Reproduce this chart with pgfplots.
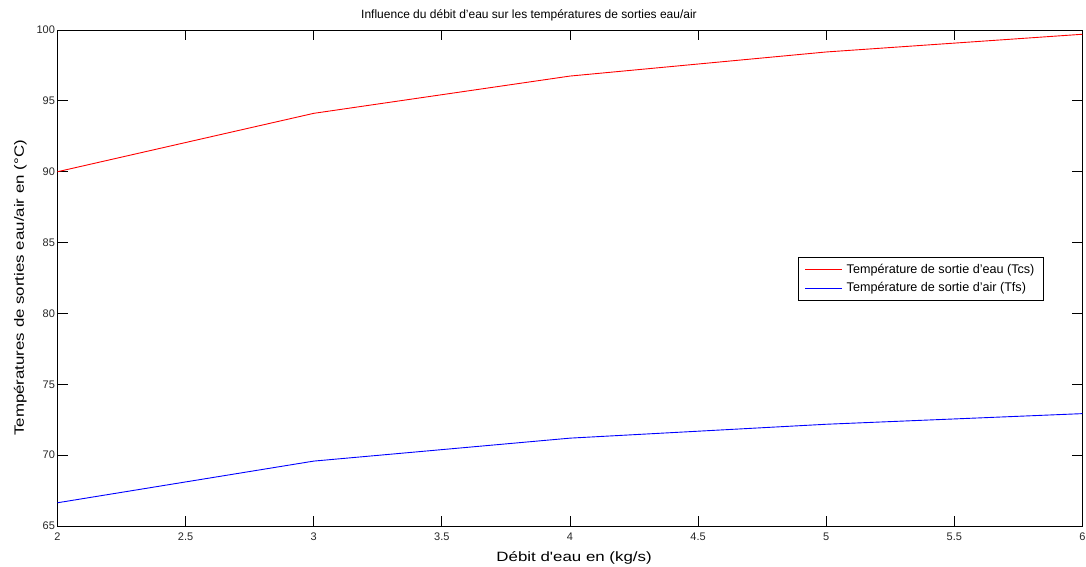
\documentclass[border=0pt]{standalone}
\usepackage{pgfplots}
\pgfplotsset{compat=1.18}
\usepackage{fontspec}
\setmainfont{Liberation Sans}
\newfontfamily\stretchfont[FakeStretch=1.25]{Liberation Sans}
\definecolor{mred}{RGB}{255,0,0}
\definecolor{mblue}{RGB}{0,0,255}
\begin{document}
\begin{tikzpicture}
\path[use as bounding box] (-57.5pt,-40pt) rectangle (1028.5pt,526pt);
\begin{axis}[
  scale only axis,
  width=1025pt, height=496pt,
  xmin=2, xmax=6, ymin=65, ymax=100,
  xtick={2,2.5,...,6}, ytick={65,70,...,100},
  xticklabels={2,2.5,3,3.5,4,4.5,5,5.5,6},
  yticklabels={65,70,75,80,85,90,95,100},
  tick align=inside,
  major tick length=10pt,
  tick style={black, line width=0.8pt},
  axis line style={black, line width=1pt},
  ticklabel style={font=\fontsize{11}{13}\selectfont, text=black!85},
  xticklabel style={yshift=-3pt},
  yticklabel style={xshift=1pt},
  title={Influence du débit d’eau sur les températures de sorties eau/air},
  title style={font=\fontsize{12}{14}\selectfont, at={(rel axis cs:0.46,1)}, anchor=south, yshift=-1pt},
  xlabel={Débit d'eau en (kg/s)},
  xlabel style={font=\stretchfont\fontsize{13.5}{15}\selectfont, at={(rel axis cs:0.504,0)}, anchor=base, yshift=-35.7pt},
  ylabel={Températures de sorties eau/air en (°C)},
  ylabel style={font=\stretchfont\fontsize{13.5}{15}\selectfont, at={(rel axis cs:0,0.48)}, anchor=base, yshift=33.5pt},
  legend style={at={(rel axis cs:0.7224,0.5423)}, anchor=north west,
    draw=black, line width=0.8pt, font=\fontsize{12.6}{14}\selectfont,
    inner xsep=6.5pt, inner ysep=4.5pt, row sep=4pt, column sep=2pt, cells={anchor=west}},
  legend image code/.code={\draw[mark repeat=2,mark phase=2,#1] plot coordinates {(0pt,0pt) (18.5pt,0pt) (37pt,0pt)};},
]
\addplot[color=mred, line width=0.9pt] coordinates {(2,90.0) (3,94.12) (4,96.75) (5,98.45) (6,99.7)};
\addlegendentry{Température de sortie d’eau (Tcs)}
\addplot[color=mblue, line width=0.9pt] coordinates {(2,66.64) (3,69.58) (4,71.2) (5,72.18) (6,72.93)};
\addlegendentry{Température de sortie d’air (Tfs)}
\end{axis}
\end{tikzpicture}
\end{document}
